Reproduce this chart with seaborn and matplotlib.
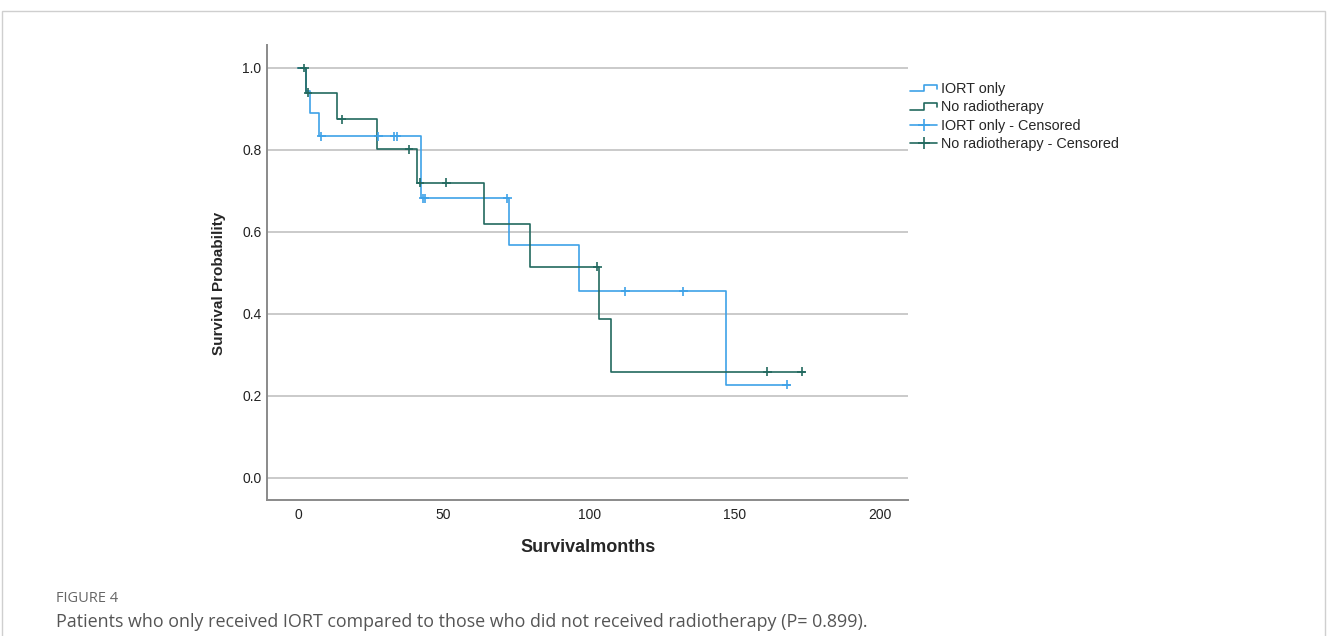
import pandas as pd
import seaborn as sns
import matplotlib.pyplot as plt
from matplotlib.lines import Line2D
from matplotlib.patches import Rectangle
from matplotlib.legend_handler import HandlerBase

# Kaplan-Meier step data (months, survival)
iort_times = [0, 2.6, 4.1, 7.3, 42.2, 72.6, 96.7, 147.1, 169.1]
iort_surv = [1.0, 0.944, 0.889, 0.833, 0.682, 0.568, 0.455, 0.227, 0.227]
nort_times = [0, 2.6, 13.3, 27.0, 41.0, 63.9, 79.7, 103.5, 107.6, 174.2]
nort_surv = [1.0, 0.940, 0.875, 0.802, 0.720, 0.620, 0.515, 0.388, 0.259, 0.259]

# censored observations
iort_cens_t = [7.9, 27.6, 33.1, 33.9, 42.9, 43.6, 71.9, 112.5, 132.4, 167.9]
iort_cens_s = [0.833, 0.833, 0.833, 0.833, 0.682, 0.682, 0.682, 0.455, 0.455, 0.227]
nort_cens_t = [2.1, 3.4, 15.0, 38.1, 41.9, 50.9, 102.8, 161.3, 173.1]
nort_cens_s = [1.0, 0.940, 0.875, 0.802, 0.720, 0.720, 0.515, 0.259, 0.259]

groups = ['IORT only', 'No radiotherapy']
y_ticks = [0.0, 0.2, 0.4, 0.6, 0.8, 1.0]
x_ticks = [0, 50, 100, 150, 200]

blue = '#3ea2e8'
teal = '#22695f'
palette = {'IORT only': blue, 'No radiotherapy': teal}

curves = pd.concat([
    pd.DataFrame({'months': iort_times, 'surv': iort_surv, 'group': groups[0]}),
    pd.DataFrame({'months': nort_times, 'surv': nort_surv, 'group': groups[1]}),
])
censored = pd.concat([
    pd.DataFrame({'months': iort_cens_t, 'surv': iort_cens_s, 'group': groups[0]}),
    pd.DataFrame({'months': nort_cens_t, 'surv': nort_cens_s, 'group': groups[1]}),
])

sns.set_style('white')
plt.rcParams['font.family'] = ['Liberation Sans', 'DejaVu Sans']

fig = plt.figure(figsize=(13.28, 6.36), dpi=100)
ax = fig.add_axes([267 / 1328, 1 - 500 / 636, (908 - 267) / 1328, (500 - 45) / 636])

for yt in y_ticks:
    ax.axhline(yt, color='#c6c6c6', lw=1.3, zorder=0)

sns.lineplot(data=curves, x='months', y='surv', hue='group', palette=palette,
             drawstyle='steps-post', estimator=None, sort=False, lw=1.2,
             legend=False, ax=ax, zorder=3)
sns.scatterplot(data=censored, x='months', y='surv', hue='group', palette=palette,
                marker='+', s=40, linewidth=1.2, legend=False, ax=ax, zorder=4)

ax.set_xlim(-10.7, 209.6)
ax.set_ylim(-0.054, 1.056)
ax.set_xticks(x_ticks)
ax.set_yticks(y_ticks)
ax.set_yticklabels([f'{v:.1f}' for v in y_ticks])
ax.tick_params(length=0, labelsize=10, colors='#222222', pad=4)
ax.tick_params(axis='x', pad=6)
for side in ['top', 'right']:
    ax.spines[side].set_visible(False)
for side in ['left', 'bottom']:
    ax.spines[side].set_color('#8a8a8a')
    ax.spines[side].set_linewidth(1.4)

ax.set_xlabel('Survivalmonths', fontsize=13, fontweight='bold')
ax.xaxis.set_label_coords((588 - 267) / 641, -(548 - 500) / 455)
ax.set_ylabel('Survival Probability', fontsize=11, fontweight='bold')
ax.yaxis.set_label_coords(-(267 - 219) / 641, (500 - 283) / 455)
ax.xaxis.label.set_va('center')
ax.yaxis.label.set_va('center')


class HandlerStep(HandlerBase):
    # little step glyph like the SPSS legend
    def create_artists(self, legend, orig_handle, xdescent, ydescent,
                       width, height, fontsize, trans):
        x0, x1 = -xdescent, -xdescent + width
        xm = x0 + width * 0.5
        lo, hi = -ydescent + height * 0.15, -ydescent + height * 0.8
        line = Line2D([x0, xm, xm, x1, x1], [lo, lo, hi, hi, hi - height * 0.4],
                      color=orig_handle.get_color(), lw=1.2, transform=trans)
        return [line]


h_iort = Line2D([], [], color=blue)
h_nort = Line2D([], [], color=teal)
h_iort_c = Line2D([], [], color=blue, marker='+', markersize=9, lw=1.2, mew=1.2)
h_nort_c = Line2D([], [], color=teal, marker='+', markersize=9, lw=1.2, mew=1.2)
fig.legend([h_iort, h_nort, h_iort_c, h_nort_c],
           ['IORT only', 'No radiotherapy', 'IORT only - Censored', 'No radiotherapy - Censored'],
           handler_map={h_iort: HandlerStep(), h_nort: HandlerStep()},
           loc='upper left', bbox_to_anchor=(910 / 1328, 1 - 82 / 636),
           frameon=False, fontsize=10.4, borderpad=0, borderaxespad=0,
           handlelength=1.9, handletextpad=0.25, labelspacing=0.3, numpoints=1)

# page frame and caption
fig.patches.append(Rectangle((2 / 1328, -0.02), 1323 / 1328, 1 - 11 / 636 + 0.02,
                             transform=fig.transFigure, fill=False,
                             edgecolor='#cfcfcf', lw=1))
fig.text(56 / 1328, 1 - 599 / 636, 'FIGURE 4', fontsize=10.5, color='#666666',
         family=['Open Sans', 'DejaVu Sans'], va='center')
fig.text(56 / 1328, 1 - 622 / 636,
         'Patients who only received IORT compared to those who did not received radiotherapy (P= 0.899).',
         fontsize=12.9, color='#555555', family=['Open Sans', 'DejaVu Sans'], va='center')

fig.savefig('out.png', dpi=100)
